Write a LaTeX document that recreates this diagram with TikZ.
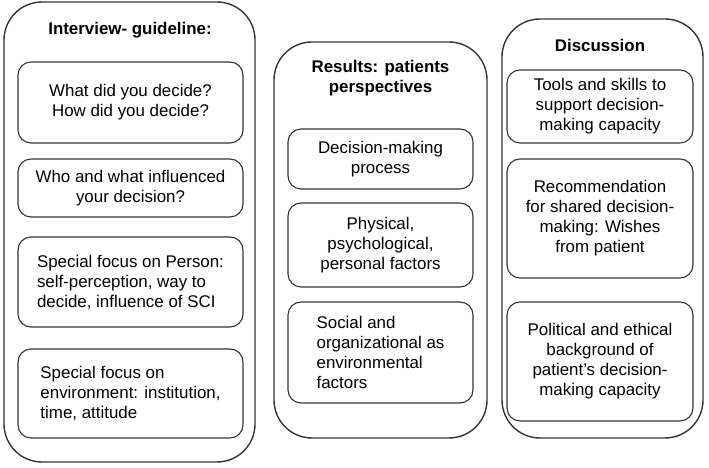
\documentclass[tikz,border=0pt]{standalone}
\usepackage{fontspec}
\setmainfont{Liberation Sans}
\begin{document}
\begin{tikzpicture}[x=1pt,y=1pt,
  outerbox/.style={draw=black!80, line width=1.4pt, rounded corners=38pt, inner sep=0pt},
  innerbox/.style={draw=black!80, line width=1.1pt, rounded corners=13pt, inner sep=0pt, font=\fontsize{16.9}{20}\selectfont},
  title/.style={font=\fontsize{16.9}{20}\selectfont\bfseries, align=center, inner sep=0pt}]
\useasboundingbox (0,0) rectangle (709,468);
% left column
\node[outerbox, minimum width=251, minimum height=460] (lo) at (129.5,236) {};
\node[title] (lt) at (130,438) {Interview- guideline:};
\node[innerbox, minimum width=225, minimum height=81, align=center] (l1) at (130.5,365.5) {What did you decide?\\How did you decide?};
\node[innerbox, minimum width=225, minimum height=58, align=center] (l2) at (130.5,280) {Who and what influenced\\your decision?};
\node[innerbox, minimum width=225, minimum height=90, align=left] (l3) at (130.5,186) {Special focus on Person:\\self-perception, way to\\decide, influence of SCI};
\node[innerbox, minimum width=225, minimum height=89, align=left] (l4) at (130.5,74.5) {Special focus on\\environment: institution,\\time, attitude};
% middle column
\node[outerbox, minimum width=213, minimum height=396] (mo) at (380.5,228) {};
\node[title] (mt) at (380.5,390) {Results: patients\\perspectives};
\node[innerbox, minimum width=185, minimum height=60, align=center] (m1) at (380.5,309) {Decision-making\\process};
\node[innerbox, minimum width=185, minimum height=84, align=center] (m2) at (380.5,223) {Physical,\\psychological,\\personal factors};
\node[innerbox, minimum width=185, minimum height=101, align=left] (m3) at (380.5,115.5) {Social and\\organizational as\\environmental\\factors};
% right column
\node[outerbox, minimum width=201, minimum height=419] (ro) at (602.5,239.5) {};
\node[title] (rt) at (600,423) {Discussion};
\node[innerbox, minimum width=186, minimum height=73, align=center] (r1) at (600,361.5) {Tools and skills to\\support decision-\\making capacity};
\node[innerbox, minimum width=186, minimum height=119, align=center] (r2) at (600,249.5) {Recommendation\\for shared decision-\\making: Wishes\\from patient};
\node[innerbox, minimum width=186, minimum height=119, align=center] (r3) at (600,106.5) {Political and ethical\\background of\\patient’s decision-\\making capacity};
\end{tikzpicture}
\end{document}
